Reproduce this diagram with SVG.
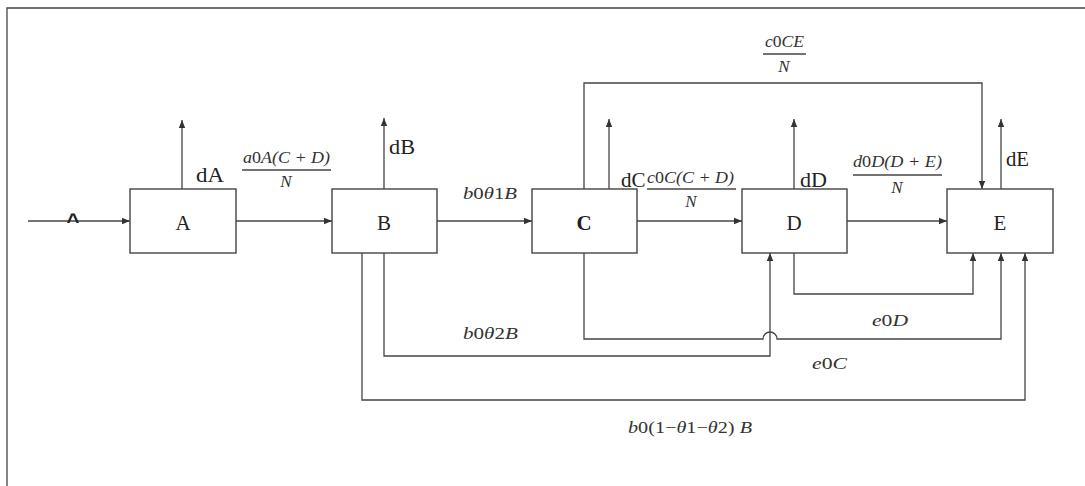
<svg xmlns="http://www.w3.org/2000/svg" width="1085" height="486" viewBox="0 0 1085 486">
<defs>
<marker id="ah" viewBox="0 0 8 8" refX="8" refY="4" markerWidth="8" markerHeight="8" markerUnits="userSpaceOnUse" orient="auto">
<path d="M0,0.8 L8,4 L0,7.2 Z" fill="#333"/>
</marker>
</defs>
<style>
.box{fill:#fff;stroke:#444;stroke-width:1.4}
.ln{fill:none;stroke:#444;stroke-width:1.3}
.arr{fill:none;stroke:#444;stroke-width:1.3;marker-end:url(#ah)}
.lbl{font-family:"Liberation Serif","Times New Roman",serif;font-size:21px;fill:#222}
.math{font-family:"Liberation Serif","Times New Roman",serif;font-style:italic;font-size:17px;fill:#333}
.up{font-style:normal}
.fr{stroke:#444;stroke-width:1.3}
</style>
<rect width="1085" height="486" fill="#fff"/>
<path class="ln" d="M7,486 V8 H1085"/>

<g id="connectors">
<line class="arr" x1="28" y1="221" x2="130" y2="221"/>
<line class="arr" x1="236" y1="221" x2="332" y2="221"/>
<line class="arr" x1="437" y1="221" x2="532" y2="221"/>
<line class="arr" x1="637" y1="221" x2="742" y2="221"/>
<line class="arr" x1="847" y1="221" x2="947" y2="221"/>
<line class="arr" x1="182" y1="189" x2="182" y2="120"/>
<line class="arr" x1="384" y1="189" x2="384" y2="118"/>
<line class="arr" x1="609" y1="189" x2="609" y2="119"/>
<line class="arr" x1="794" y1="189" x2="794" y2="119"/>
<line class="arr" x1="1001" y1="189" x2="1001" y2="119"/>
<path class="arr" d="M584,189 V83 H982 V189"/>
<path class="arr" d="M794,253 V294 H973 V253"/>
<path class="arr" d="M584,253 V339 H763 A7,7 0 0 1 777,339 H1001 V253"/>
<path class="arr" d="M384,253 V356 H770 V253"/>
<path class="arr" d="M362,253 V400 H1025 V253"/>
</g>

<g id="A"><rect class="box" x="130" y="189" width="106" height="64"/><text class="lbl" x="183" y="230" text-anchor="middle">A</text></g>
<g id="B"><rect class="box" x="332" y="189" width="105" height="64"/><text class="lbl" x="384" y="230" text-anchor="middle">B</text></g>
<g id="C"><rect class="box" x="532" y="189" width="105" height="64"/><text class="lbl" x="584" y="230" text-anchor="middle" font-weight="bold">C</text></g>
<g id="D"><rect class="box" x="742" y="189" width="105" height="64"/><text class="lbl" x="794" y="230" text-anchor="middle">D</text></g>
<g id="E"><rect class="box" x="947" y="189" width="106" height="64"/><text class="lbl" x="1000" y="230" text-anchor="middle">E</text></g>

<g id="labels">
<text x="73" y="229" text-anchor="middle" font-family="Liberation Sans,Arial,sans-serif" font-weight="bold" font-size="22" fill="#222">^</text>
<text class="lbl" x="196" y="182" textLength="28" lengthAdjust="spacingAndGlyphs">dA</text>
<text class="math" x="243" y="163" textLength="87" lengthAdjust="spacingAndGlyphs">a<tspan class="up">0</tspan>A(C + D)</text>
<line class="fr" x1="242" y1="170" x2="331" y2="170"/>
<text class="math" x="286" y="187" text-anchor="middle">N</text>
<text class="lbl" x="389" y="154" textLength="26" lengthAdjust="spacingAndGlyphs">dB</text>
<text class="math" x="463" y="199" textLength="54" lengthAdjust="spacingAndGlyphs">b<tspan class="up">0</tspan>θ<tspan class="up">1</tspan>B</text>
<text class="lbl" x="621" y="187">dC</text>
<text class="math" x="647" y="183" textLength="87" lengthAdjust="spacingAndGlyphs">c<tspan class="up">0</tspan>C(C + D)</text>
<line class="fr" x1="647" y1="189" x2="736" y2="189"/>
<text class="math" x="691" y="207" text-anchor="middle">N</text>
<text class="lbl" x="800" y="187" textLength="27" lengthAdjust="spacingAndGlyphs">dD</text>
<text class="math" x="765" y="47" textLength="39" lengthAdjust="spacingAndGlyphs">c<tspan class="up">0</tspan>CE</text>
<line class="fr" x1="763" y1="54" x2="806" y2="54"/>
<text class="math" x="784" y="72" text-anchor="middle">N</text>
<text class="math" x="853" y="167" textLength="89" lengthAdjust="spacingAndGlyphs">d<tspan class="up">0</tspan>D(D + E)</text>
<line class="fr" x1="853" y1="175" x2="942" y2="175"/>
<text class="math" x="897" y="193" text-anchor="middle">N</text>
<text class="lbl" x="1006" y="166" textLength="23" lengthAdjust="spacingAndGlyphs">dE</text>
<text class="math" x="463" y="339" textLength="55" lengthAdjust="spacingAndGlyphs">b<tspan class="up">0</tspan>θ<tspan class="up">2</tspan>B</text>
<text class="math" x="872" y="326" textLength="36" lengthAdjust="spacingAndGlyphs" font-size="19">e<tspan class="up">0</tspan>D</text>
<text class="math" x="812" y="369" textLength="35" lengthAdjust="spacingAndGlyphs" font-size="19">e<tspan class="up">0</tspan>C</text>
<text class="math" x="628" y="433" textLength="124" lengthAdjust="spacingAndGlyphs">b<tspan class="up">0(1−</tspan>θ<tspan class="up">1−</tspan>θ<tspan class="up">2) </tspan>B</text>
</g>
</svg>
